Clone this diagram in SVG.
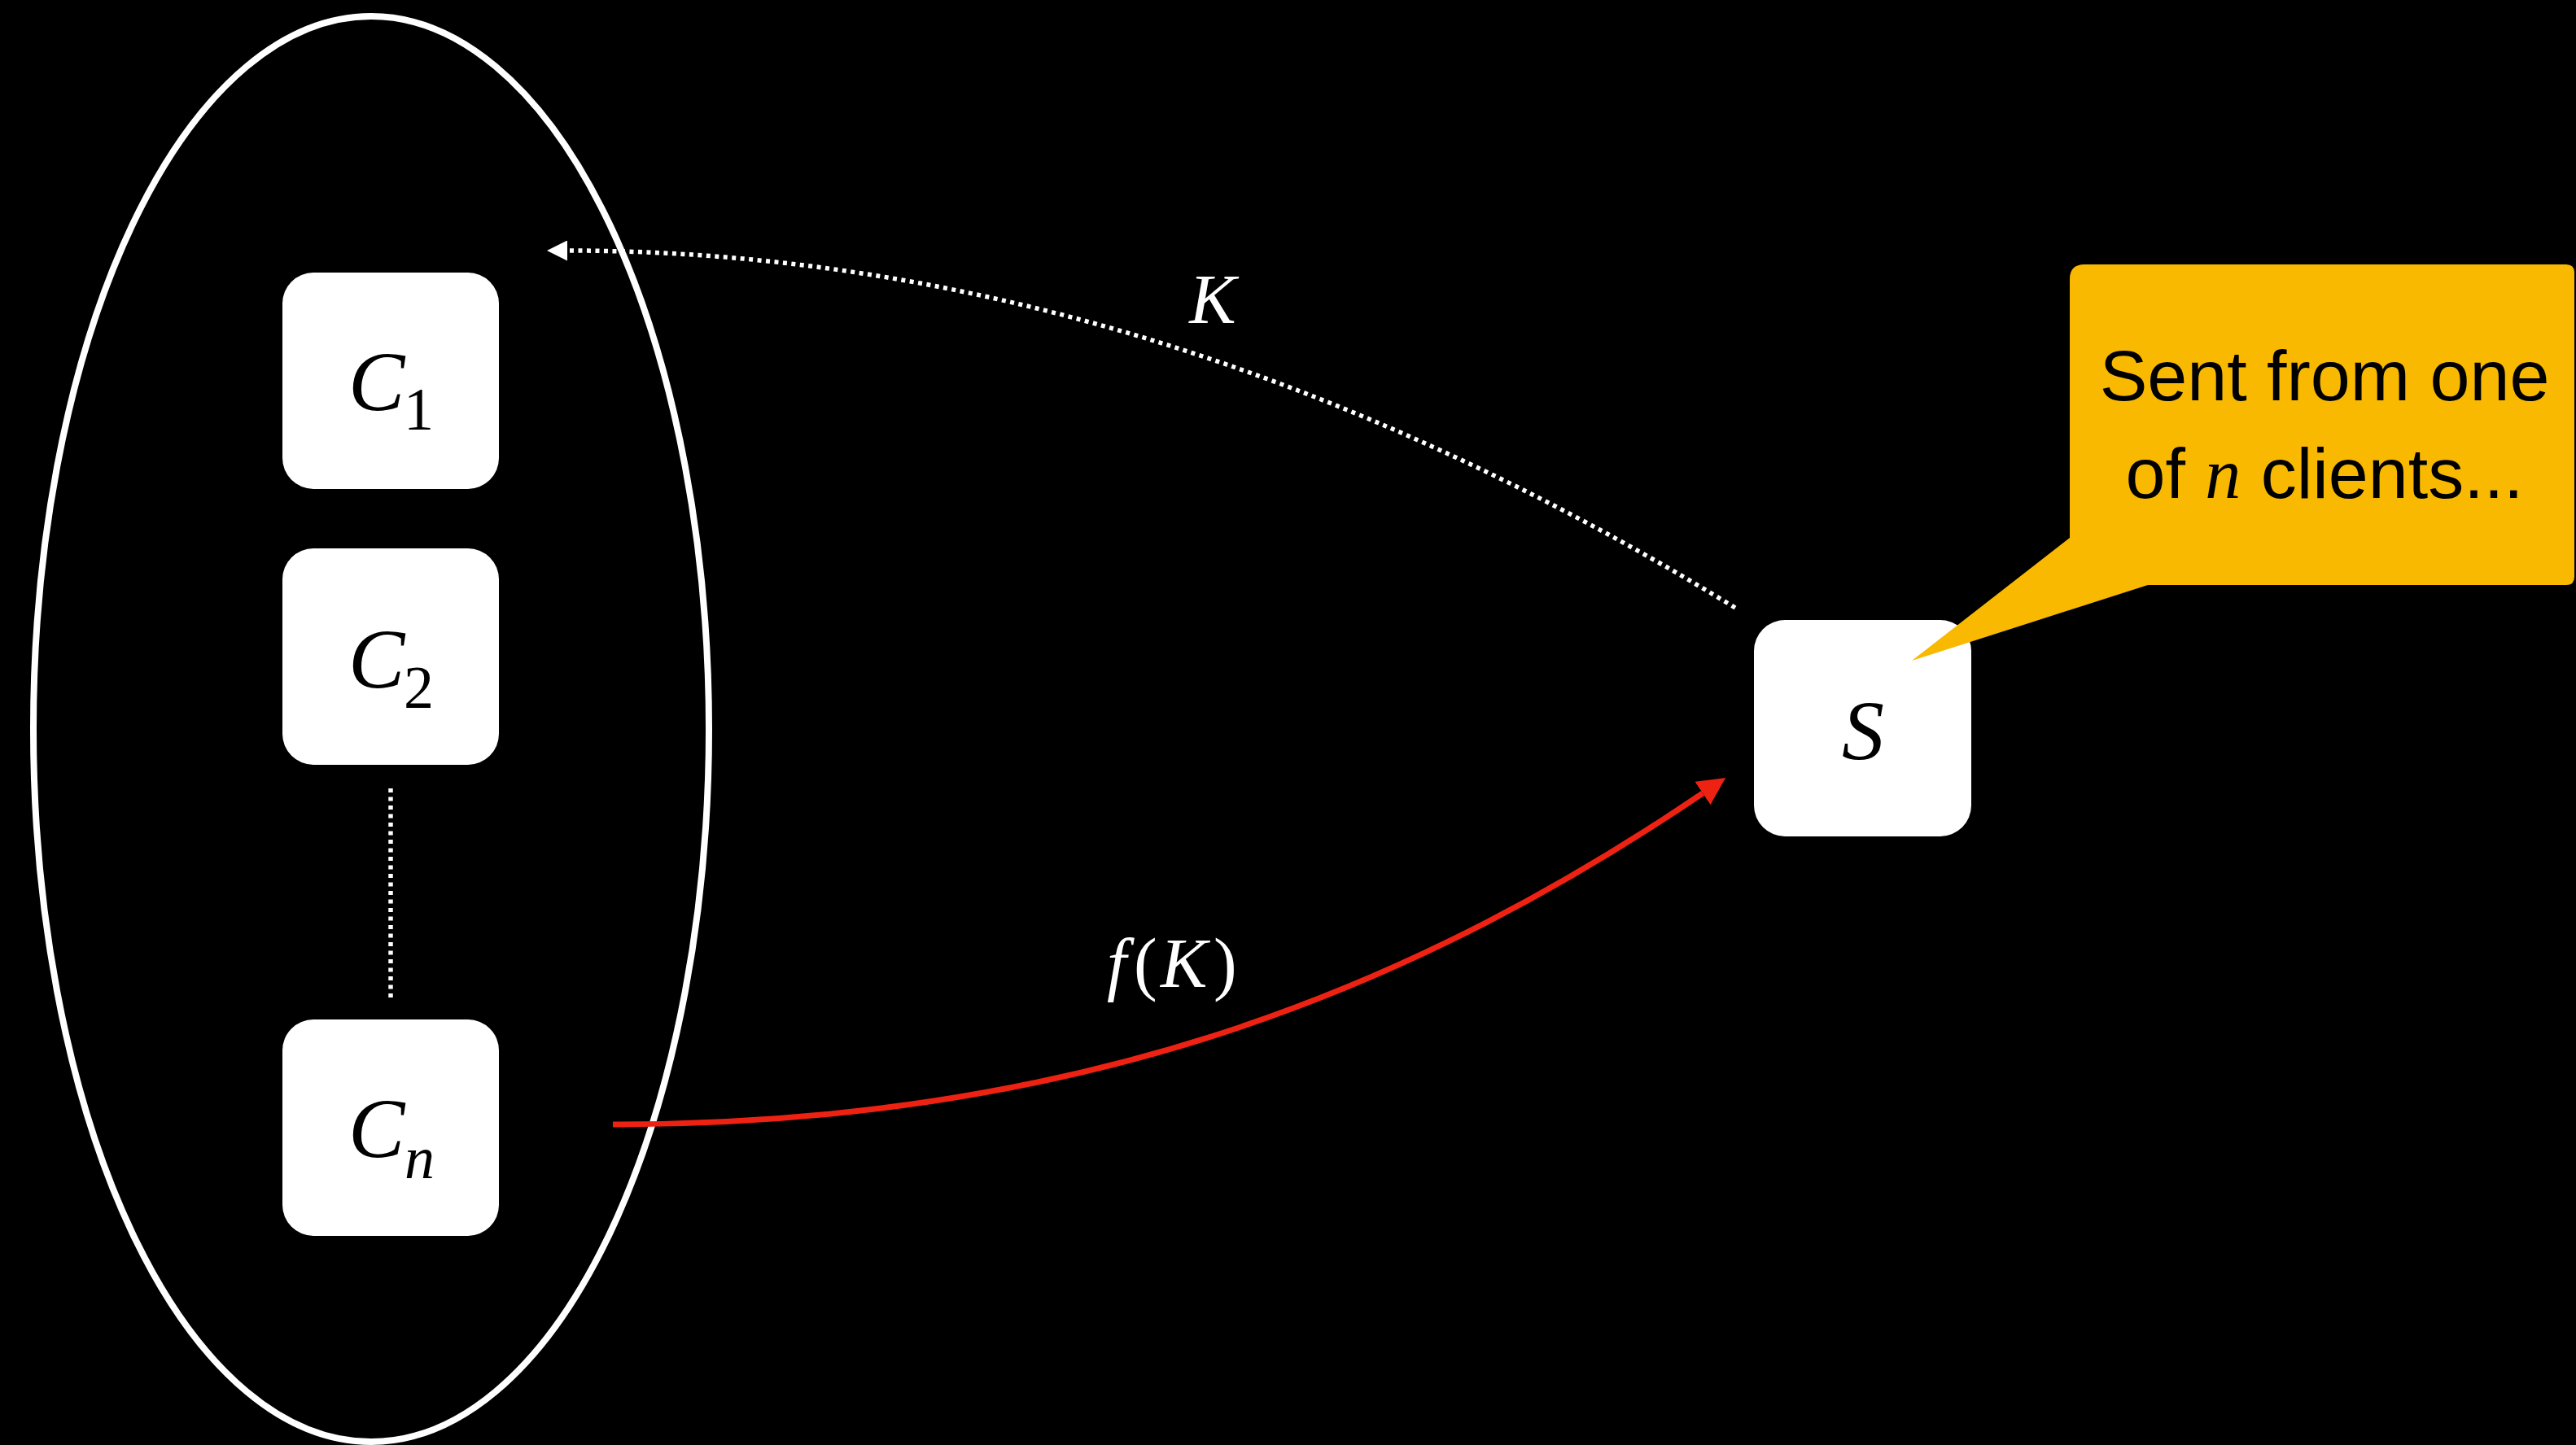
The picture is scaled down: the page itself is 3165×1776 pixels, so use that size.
<svg xmlns="http://www.w3.org/2000/svg" width="3165" height="1776" viewBox="0 0 3165 1776">
  <defs>
    <style>
      .box { fill: #ffffff; }
      .math { font-family: "Liberation Serif", "Times New Roman", serif; font-style: italic; fill: #000000; }
      .up { font-style: normal; }
      .lbl { font-family: "Liberation Serif", "Times New Roman", serif; font-style: italic; fill: #ffffff; font-size: 86px; }
      .dots { fill: none; stroke: #ffffff; stroke-width: 5.5; stroke-dasharray: 5 5.5; }
      .callout-text { font-family: "Liberation Sans", Arial, sans-serif; font-size: 88px; fill: #000000; }
    </style>
    <marker id="arrowWhite" markerUnits="userSpaceOnUse" markerWidth="25" markerHeight="25" viewBox="0 0 25 25" refX="0" refY="12.5" orient="auto">
      <path d="M0,0 L25,12.5 L0,25 Z" fill="#ffffff"/>
    </marker>
    <marker id="arrowRed" markerUnits="userSpaceOnUse" markerWidth="34" markerHeight="34" viewBox="0 0 34 34" refX="0" refY="17" orient="auto">
      <path d="M0,0 L34,17 L0,34 Z" fill="#EE2213"/>
    </marker>
  </defs>

  <rect x="0" y="0" width="3165" height="1776" fill="#000000"/>

  <g id="client-group">
    <ellipse cx="456" cy="896" rx="415" ry="876" fill="none" stroke="#ffffff" stroke-width="8"/>
  </g>

  <g id="node-C1">
    <rect class="box" x="347" y="335" width="266" height="266" rx="38" ry="38"/>
    <text class="math" font-size="104"><tspan x="428" y="504">C</tspan><tspan class="up" font-size="74" x="496" y="528">1</tspan></text>
  </g>

  <g id="node-C2">
    <rect class="box" x="347" y="674" width="266" height="266" rx="38" ry="38"/>
    <text class="math" font-size="104"><tspan x="428" y="845">C</tspan><tspan class="up" font-size="74" x="496" y="870">2</tspan></text>
  </g>

  <g id="node-Cn">
    <rect class="box" x="347" y="1253" width="266" height="266" rx="38" ry="38"/>
    <text class="math" font-size="104"><tspan x="428" y="1422">C</tspan><tspan font-size="74" x="497" y="1448">n</tspan></text>
  </g>

  <g id="node-S">
    <rect class="box" x="2155" y="762" width="267" height="266" rx="38" ry="38"/>
    <text class="math" font-size="104" x="2289" y="933" text-anchor="middle">S</text>
  </g>

  <g id="connectors">
    <line class="dots" x1="480" y1="969" x2="480" y2="1231"/>
    <path class="dots" d="M 2132 747 Q 1414 308 697 308" marker-end="url(#arrowWhite)"/>
    <path d="M 753 1382 C 1353 1382, 1761 1199, 2092 975" fill="none" stroke="#EE2213" stroke-width="7" marker-end="url(#arrowRed)"/>
  </g>

  <g id="labels">
    <text class="lbl" x="1490" y="397" text-anchor="middle">K</text>
    <text class="lbl" y="1213"><tspan x="1360">f</tspan><tspan class="up" x="1393">(</tspan><tspan x="1426">K</tspan><tspan class="up" x="1491">)</tspan></text>
  </g>

  <g id="callout">
    <path d="M 2543 343 Q 2543 325 2561 325 H 3153 Q 3163 325 3163 335 V 709 Q 3163 719 3153 719 H 2639 L 2349 812 L 2543 661 Z" fill="#F9B900"/>
    <text class="callout-text" x="2856" y="492" text-anchor="middle">Sent from one</text>
    <text class="callout-text" x="2856" y="612" text-anchor="middle">of <tspan font-family="Liberation Serif, Times New Roman, serif" font-style="italic">n</tspan> clients...</text>
  </g>
</svg>
